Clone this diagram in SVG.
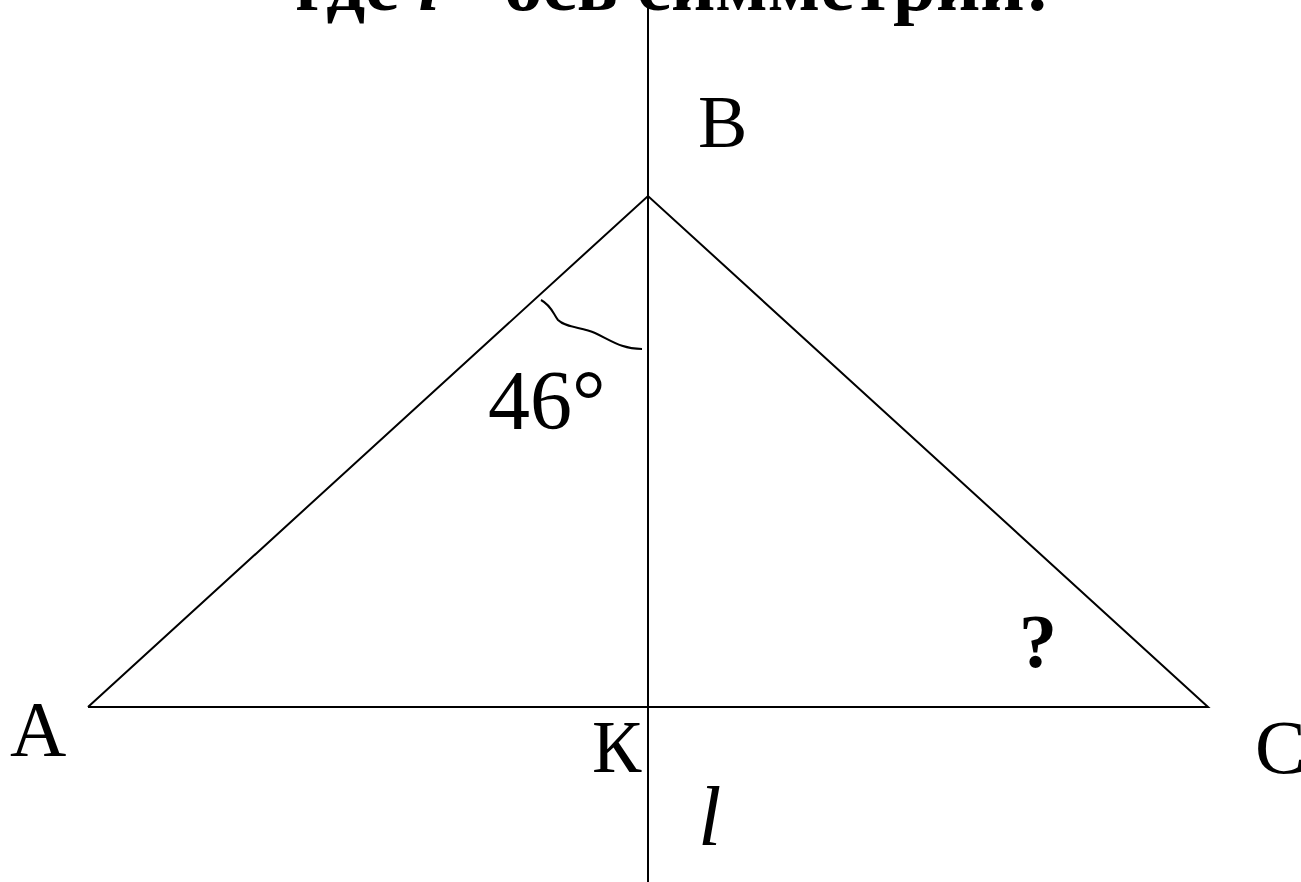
<svg xmlns="http://www.w3.org/2000/svg" width="1301" height="882" viewBox="0 0 1301 882">
<style>
.ln{stroke:#000;stroke-width:2;fill:none}
.t{font-family:"Liberation Serif","Times New Roman",serif;fill:#000}
</style>
<rect width="1301" height="882" fill="#fff"/>
<g id="title"><text class="t" x="295" y="10" font-size="77" font-weight="bold">где <tspan font-style="italic">l</tspan> - ось симметрии:</text></g>
<g id="connectors">
<line class="ln" x1="648" y1="0" x2="648" y2="882"/>
<polyline class="ln" points="88,707 648,196 1208,707 88,707"/>
<path class="ln" d="M541,300 C552,306 553,314 558,320 C566,328 582,327 595,333 C612,341 622,349 642,349"/>
</g>
<g id="B"><text class="t" x="698" y="147" font-size="74">B</text></g>
<g id="A"><text class="t" x="10" y="755" font-size="78">A</text></g>
<g id="C"><text class="t" x="1255" y="773" font-size="76">C</text></g>
<g id="K"><text class="t" x="592" y="772" font-size="74">К</text></g>
<g id="l"><text class="t" x="698" y="845" font-size="84" font-style="italic">l</text></g>
<g id="angle"><text class="t" x="488" y="429" font-size="84">46°</text></g>
<g id="q"><text class="t" x="1019" y="667" font-size="76" font-weight="bold">?</text></g>
</svg>
